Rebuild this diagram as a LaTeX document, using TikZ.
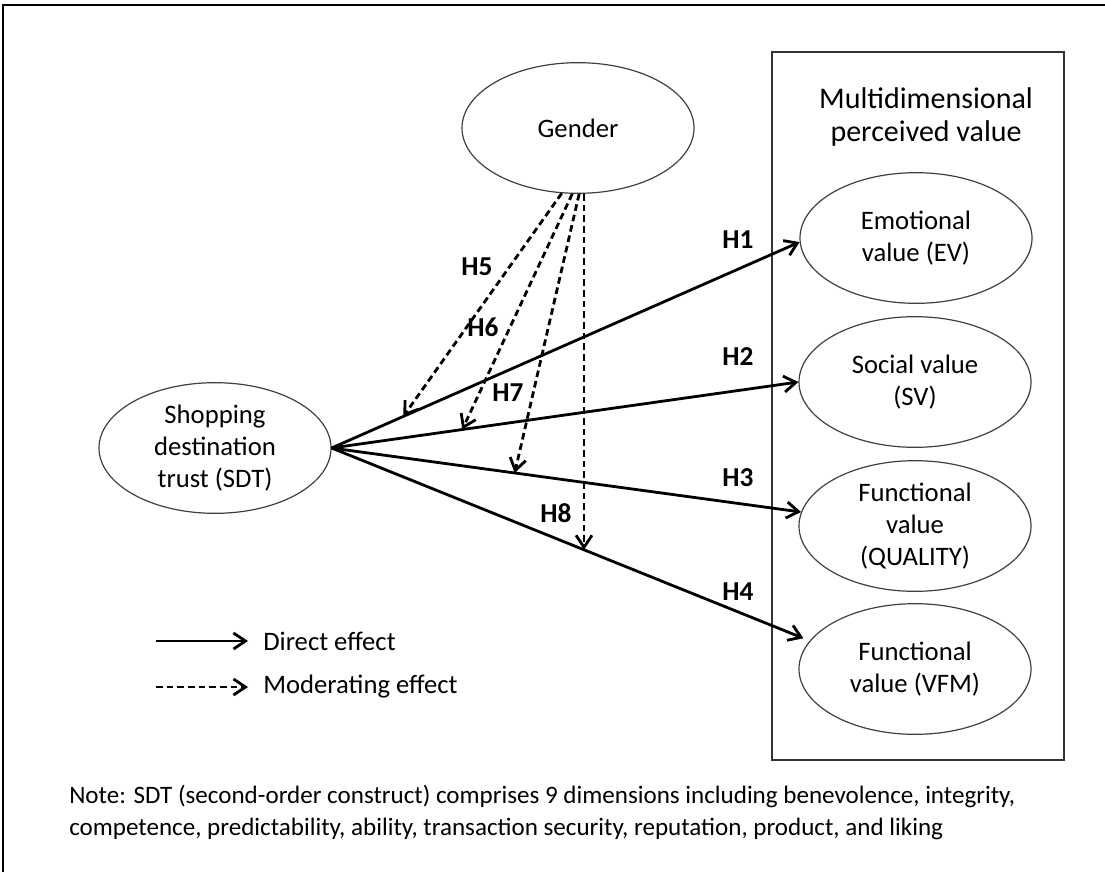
\documentclass[tikz,border=0pt]{standalone}
\usepackage{fontspec}
\setmainfont{Carlito}
\usetikzlibrary{shapes.geometric,arrows.meta,calc}
\begin{document}
\begin{tikzpicture}[x=0.75pt,y=-0.75pt,
  ell/.style={ellipse,draw=black!75,line width=0.9pt,minimum width=174pt,minimum height=98pt,inner sep=0pt,align=center,font=\fontsize{20}{24}\selectfont},
  direct/.style={line width=2.1pt,-{Straight Barb[length=9pt,width=12pt]}},
  moder/.style={direct,dash pattern=on 5pt off 3pt},
  hlab/.style={font=\fontsize{20.5}{24}\selectfont\bfseries},
  txt/.style={font=\fontsize{20}{24}\selectfont}]
\useasboundingbox (0,0) rectangle (1105,872);
\fill[white] (0,0) rectangle (1105,872);
\draw[line width=1.2pt] (3,872) -- (3,5) -- (1105,5);
\node[draw=black!80,line width=1.1pt,minimum width=219pt,minimum height=531pt,inner sep=0pt] (box) at (918,406) {};
\node[align=center,font=\fontsize{22.5}{25}\selectfont] (title) at (926,117) {Multidimensional\\perceived value};
\node[ell] (gender) at (578,128) {Gender};
\node[ell] (sdt) at (215,448) {Shopping\\destination\\trust (SDT)};
\node[ell] (ev) at (916,238) {Emotional\\value (EV)};
\node[ell] (sv) at (915,382) {Social value\\(SV)};
\node[ell] (qual) at (915,526) {Functional\\value\\(QUALITY)};
\node[ell] (vfm) at (915,669) {Functional\\value (VFM)};
\draw[direct] (sdt.east) -- coordinate[pos=0.153] (m5) (ev.182);
\draw[direct] (sdt.east) -- coordinate[pos=0.28] (m6) (sv.west);
\draw[direct] (sdt.east) -- coordinate[pos=0.39] (m7) (qual.173);
\draw[direct,shorten >=5pt] (sdt.east) -- coordinate[pos=0.528] (m8) (vfm.165);
\draw[moder] (gender.256) -- (m5);
\draw[moder] (gender.265) -- (m6);
\draw[moder] (gender.271) -- (m7);
\draw[moder] (m8 |- gender.south) -- (m8);
\node[hlab] (h1) at (738,240) {H1};
\node[hlab] (h2) at (738,357) {H2};
\node[hlab] (h3) at (738,478) {H3};
\node[hlab] (h4) at (738,592) {H4};
\node[hlab] (h5) at (477,267) {H5};
\node[hlab] (h6) at (483,327) {H6};
\node[hlab] (h7) at (508,393) {H7};
\node[hlab] (h8) at (556,513) {H8};
\coordinate (la1) at (156,641);
\coordinate (la2) at (248,641);
\coordinate (lb1) at (156,687);
\coordinate (lb2) at (248,687);
\draw[direct] (la1) -- (la2);
\draw[moder] (lb1) -- (lb2);
\node[txt,anchor=west,inner sep=0pt] (le1) at (263,641) {Direct effect};
\node[txt,anchor=west,inner sep=0pt] (le2) at (263,687) {Moderating effect};
\node[anchor=west,align=left,inner sep=0pt,font=\fontsize{18.8}{24}\selectfont] (note) at (69,812) {Note: SDT (second-order construct) comprises 9 dimensions including benevolence, integrity,\\competence, predictability, ability, transaction security, reputation, product, and liking};
\end{tikzpicture}
\end{document}
